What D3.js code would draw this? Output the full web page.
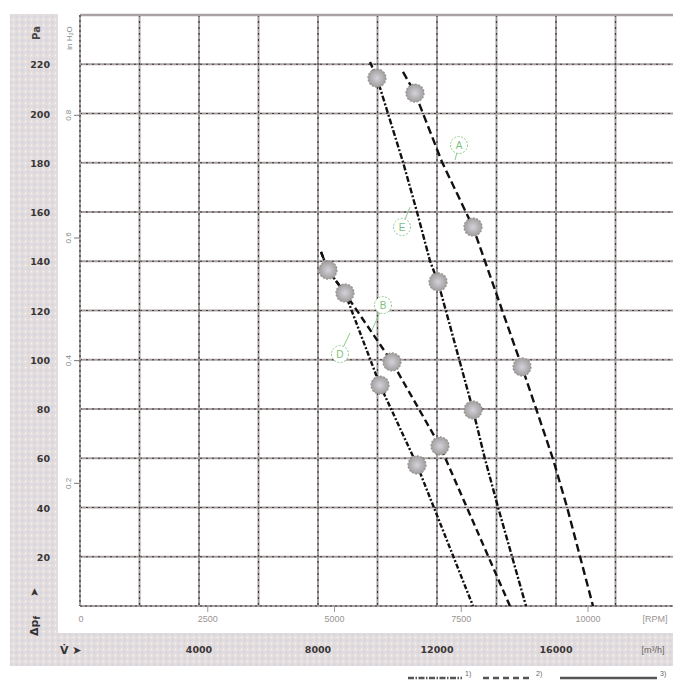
<!DOCTYPE html>
<html><head><meta charset="utf-8">
<script src="https://cdn.jsdelivr.net/npm/d3@7"></script>
<style>
html,body{margin:0;padding:0;background:#fff;}
svg{display:block;}
</style></head>
<body>
<svg id="c" width="673" height="680"></svg>
<script>
// ---------- data ----------
const paTicks = [20, 40, 60, 80, 100, 120, 140, 160, 180, 200, 220];
const inH2OTicks = [0.2, 0.4, 0.6, 0.8];
const flowTicks = [4000, 8000, 12000, 16000];
const rpmTicks = [0, 2500, 5000, 7500, 10000];

// curves: [flow m3/h, pressure Pa]
const curveA = [[10857,216.9],[11261,208.3],[12168,180.3],[13210,153.9],[14857,97.1],[15899,59.7],[16370,40.2],[17244,0]];
const curveE = [[9748,220.9],[9983,214.4],[10857,180.3],[11328,160.0],[11765,140.1],[12034,131.6],[13210,79.6],[13613,59.7],[14050,40.2],[14992,0]];
const curveB = [[8101,143.8],[8336,136.4],[8907,127.1],[10487,99.1],[12100,65.0],[14452,0]];
const curveD = [[8101,143.8],[8336,136.4],[8907,127.1],[10084,89.7],[11327,57.3],[13210,0]];

const markersA = [[11261,208.3],[13210,153.9],[14857,97.1]];
const markersE = [[9983,214.4],[12034,131.6],[13210,79.6]];
const markersB = [[8336,136.4],[8907,127.1],[10487,99.1],[12100,65.0]];
const markersD = [[10084,89.7],[11327,57.3]];

// circled curve labels: [name, label flow, label Pa, leader flow, leader Pa]
const curveLabels = [["A",12739,187.2,12605,181.1],["E",10823,153.9,11092,162.0],["B",10185,122.2,9815,112.1],["D",8739,102.3,9075,110.9]];
const legendLabels = ["1)", "2)", "3)"];

// ---------- scales ----------
const svg = d3.select("#c");
const x = d3.scaleLinear().domain([0, 20000]).range([80, 675]);
const y = d3.scaleLinear().domain([0, 240]).range([606, 15]);
const xr = d3.scaleLinear().domain([0, 10000]).range([81, 588]);
const PA_PER_INH2O = 249.09;

// pattern for the shaded bands
const defs = svg.append("defs");
const pat = defs.append("pattern").attr("id","dots").attr("width",6).attr("height",6).attr("patternUnits","userSpaceOnUse");
pat.append("rect").attr("width",6).attr("height",6).attr("fill","#e2dcdc");
pat.append("circle").attr("cx",1.5).attr("cy",1.5).attr("r",0.9).attr("fill","#f7f4f4");
pat.append("circle").attr("cx",4.5).attr("cy",4.5).attr("r",0.9).attr("fill","#cdcfe8");
const rg = defs.append("radialGradient").attr("id","mk");
rg.append("stop").attr("offset","0%").attr("stop-color","#d2d2da");
rg.append("stop").attr("offset","100%").attr("stop-color","#a29e9e");

// left band and bottom band
svg.append("path")
  .attr("d","M10,14 H58 V633 H673 V666 H10 Z")
  .attr("fill","url(#dots)");

// ---------- grid ----------
const gridH = paTicks;
const gridV = d3.range(2000, 20000, 2000);
const g = svg.append("g");
g.selectAll("line.h").data(gridH).join("line")
  .attr("x1", x(0)).attr("x2", 673).attr("y1", d=>y(d)).attr("y2", d=>y(d))
  .attr("stroke","#a79f9f").attr("stroke-width",2);
g.selectAll("line.hd").data(gridH).join("line")
  .attr("x1", x(0)).attr("x2", 673).attr("y1", d=>y(d)).attr("y2", d=>y(d))
  .attr("stroke","#3e3939").attr("stroke-width",1.2).attr("stroke-dasharray","2,4");
g.selectAll("line.v").data(gridV).join("line")
  .attr("x1", d=>x(d)).attr("x2", d=>x(d)).attr("y1", y(240)).attr("y2", y(0))
  .attr("stroke","#a79f9f").attr("stroke-width",2);
g.selectAll("line.vd").data(gridV).join("line")
  .attr("x1", d=>x(d)).attr("x2", d=>x(d)).attr("y1", y(240)).attr("y2", y(0))
  .attr("stroke","#3e3939").attr("stroke-width",1.2).attr("stroke-dasharray","2,4");
// frame
g.append("line").attr("x1",x(0)).attr("x2",673).attr("y1",y(240)).attr("y2",y(240)).attr("stroke","#aaa3a3").attr("stroke-width",2.5);
[[x(0),y(240),x(0),y(0)],[x(0),y(0),673,y(0)]].forEach(c=>{
  g.append("line").attr("x1",c[0]).attr("y1",c[1]).attr("x2",c[2]).attr("y2",c[3]).attr("stroke","#a79f9f").attr("stroke-width",2);
  g.append("line").attr("x1",c[0]).attr("y1",c[1]).attr("x2",c[2]).attr("y2",c[3]).attr("stroke","#3e3939").attr("stroke-width",1.2).attr("stroke-dasharray","2,3");
});

// ---------- axes ----------
// Pa labels
svg.append("g").selectAll("text").data(paTicks).join("text")
  .attr("x", 50).attr("y", d=>y(d)+4).attr("text-anchor","end")
  .attr("font-family","DejaVu Sans").attr("font-weight","bold").attr("font-size",9.5)
  .attr("fill","#3a3636").text(d=>d);
svg.append("text").attr("transform","translate(40,33) rotate(-90)").attr("text-anchor","middle")
  .attr("font-family","DejaVu Sans").attr("font-weight","bold").attr("font-size",10).attr("fill","#4a4545").text("Pa");
// inH2O axis
const gin = svg.append("g");
gin.selectAll("line").data(inH2OTicks).join("line")
  .attr("x1",74).attr("x2",80).attr("y1",d=>y(d*PA_PER_INH2O)).attr("y2",d=>y(d*PA_PER_INH2O))
  .attr("stroke","#777").attr("stroke-width",1);
gin.selectAll("text").data(inH2OTicks).join("text")
  .attr("transform", d=>`translate(71,${y(d*PA_PER_INH2O)}) rotate(-90)`)
  .attr("text-anchor","middle").attr("font-family","Liberation Sans").attr("font-size",8).attr("fill","#888").text(d=>d.toFixed(1));
gin.append("text").attr("transform","translate(72,38) rotate(-90)").attr("text-anchor","middle")
  .attr("font-family","Liberation Sans").attr("font-size",8).attr("fill","#888").text("in H₂O");
// pressure symbol
svg.append("text").attr("transform","translate(38,636) rotate(-90)").attr("text-anchor","start")
  .attr("font-family","DejaVu Sans").attr("font-weight","bold").attr("font-size",11).attr("fill","#333")
  .text("Δp").append("tspan").attr("font-size",8).attr("dy",2).text("f");
svg.append("text").attr("transform","translate(38,597) rotate(-90)").attr("text-anchor","start")
  .attr("font-family","DejaVu Sans").attr("font-weight","bold").attr("font-size",11).attr("fill","#333").text("➤");

// RPM axis
const gr = svg.append("g");
gr.selectAll("line").data(rpmTicks.filter(d=>d>0)).join("line")
  .attr("x1",d=>xr(d)).attr("x2",d=>xr(d)).attr("y1",606).attr("y2",612)
  .attr("stroke","#999").attr("stroke-width",1);
gr.selectAll("text").data(rpmTicks).join("text")
  .attr("x",d=>xr(d)).attr("y",622).attr("text-anchor","middle")
  .attr("font-family","Liberation Sans Narrow, Liberation Sans").attr("font-size",9).attr("fill","#9a9494").text(d=>d);
gr.append("text").attr("x",655).attr("y",622).attr("text-anchor","middle")
  .attr("font-family","Liberation Sans Narrow, Liberation Sans").attr("font-size",9).attr("fill","#9a9494").text("[RPM]");

// Flow axis
const gf = svg.append("g");
gf.selectAll("text").data(flowTicks).join("text")
  .attr("x",d=>x(d)).attr("y",653).attr("text-anchor","middle")
  .attr("font-family","DejaVu Sans").attr("font-weight","bold").attr("font-size",9.5).attr("fill","#3a3636").text(d=>d);
gf.append("text").attr("x",653).attr("y",653).attr("text-anchor","middle")
  .attr("font-family","Liberation Sans").attr("font-size",9).attr("fill","#6a6464").text("[m³/h]");
gf.append("text").attr("x",60).attr("y",654)
  .attr("font-family","DejaVu Sans").attr("font-weight","bold").attr("font-size",11).attr("fill","#333").text("V̇ ➤");

// ---------- curves ----------
const line = d3.line().x(d=>x(d[0])).y(d=>y(d[1]));
const curves = [
  {data: curveA, markers: markersA, dash: "8,4"},
  {data: curveE, markers: markersE, dash: "6,2,2,2"},
  {data: curveB, markers: markersB, dash: "7,4"},
  {data: curveD, markers: markersD, dash: "5,2,2,2"}
];
const gc = svg.append("g");
curves.forEach(c=>{
  gc.append("path").attr("d", line(c.data)).attr("fill","none")
    .attr("stroke","#111").attr("stroke-width",2.4).attr("stroke-dasharray",c.dash);
});
curves.forEach(c=>{
  gc.selectAll(null).data(c.markers).join("circle")
    .attr("cx",d=>x(d[0])).attr("cy",d=>y(d[1])).attr("r",9)
    .attr("fill","url(#mk)").attr("stroke","#938e8e").attr("stroke-width",1.2).attr("stroke-dasharray","2,1.5");
});

// circled labels
const gl = svg.append("g");
curveLabels.forEach(l=>{
  gl.append("line").attr("x1",x(l[1])).attr("y1",y(l[2])).attr("x2",x(l[3])).attr("y2",y(l[4]))
    .attr("stroke","#8ccc8c").attr("stroke-width",1);
  gl.append("circle").attr("cx",x(l[1])).attr("cy",y(l[2])).attr("r",8.5)
    .attr("fill","#fff").attr("stroke","#8ccc8c").attr("stroke-width",1).attr("stroke-dasharray","2,1.5");
  gl.append("text").attr("x",x(l[1])).attr("y",y(l[2])+3.5).attr("text-anchor","middle")
    .attr("font-family","Liberation Sans").attr("font-size",10).attr("fill","#7cbf7c").text(l[0]);
});

// legend (partially cut at the bottom edge)
const legendDash = ["6,1.5,1.5,1.5","6,4",null];
const legendX = [[408,462],[483,533],[560,657]];
const gleg = svg.append("g");
legendLabels.forEach((t,i)=>{
  const ln = gleg.append("line").attr("x1",legendX[i][0]).attr("x2",legendX[i][1]).attr("y1",678).attr("y2",678)
    .attr("stroke","#555").attr("stroke-width",2.5);
  if (legendDash[i]) ln.attr("stroke-dasharray",legendDash[i]);
  gleg.append("text").attr("x",legendX[i][1]+3).attr("y",676)
    .attr("font-family","Liberation Sans").attr("font-size",7).attr("fill","#666").text(t);
});
</script>
</body></html>
